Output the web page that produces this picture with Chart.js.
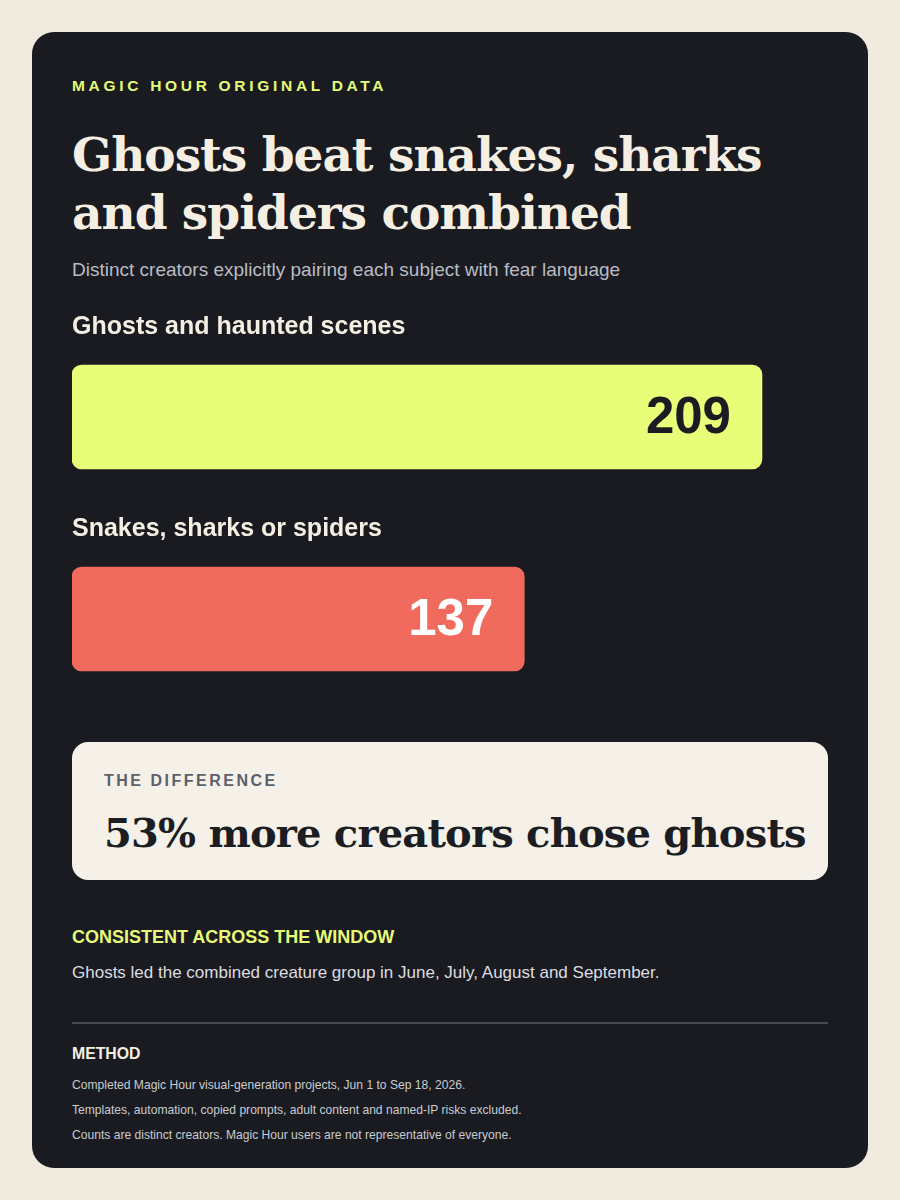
<!DOCTYPE html>
<html lang="en">
<head>
    <meta charset="UTF-8">
    <title>Ghosts beat snakes, sharks and spiders combined</title>
    <script src="https://cdn.jsdelivr.net/npm/chart.js"></script>
    <style>
        html, body {
            margin: 0;
            padding: 0;
            background: #f1eadf;
            width: 900px;
            height: 1200px;
            overflow: hidden;
        }

        .card {
            position: absolute;
            left: 32px;
            top: 32px;
            width: 836px;
            height: 1136px;
            background: #191b21;
            border-radius: 22px;
        }

        .txt {
            position: absolute;
            left: 72px;
            white-space: nowrap;
            font-family: "Liberation Sans", Arial, sans-serif;
        }

        .eyebrow {
            top: 76px;
            line-height: 20px;
            font-size: 15.5px;
            font-weight: bold;
            letter-spacing: 3.7px;
            color: #e6fb78;
        }

        .title {
            top: 126px;
            line-height: 58px;
            font-family: "DejaVu Serif", Georgia, serif;
            font-size: 47px;
            font-weight: bold;
            letter-spacing: -1px;
            color: #f5efe3;
        }

        .sub {
            top: 258px;
            line-height: 24px;
            font-size: 19px;
            color: #b9bcc4;
        }

        #barChart {
            position: absolute;
            left: 72px;
            top: 316px;
        }

        .diff {
            position: absolute;
            left: 72px;
            top: 742px;
            width: 756px;
            height: 138px;
            background: #f5f1e8;
            border-radius: 16px;
        }

        .diff-label {
            left: 104px;
            top: 771px;
            line-height: 20px;
            font-size: 16px;
            font-weight: bold;
            letter-spacing: 2.5px;
            color: #5d6068;
        }

        .diff-value {
            left: 104px;
            top: 809px;
            line-height: 48px;
            font-family: "DejaVu Serif", Georgia, serif;
            font-size: 40px;
            font-weight: bold;
            letter-spacing: -0.8px;
            color: #1b1d23;
        }

        .note-head {
            top: 925px;
            line-height: 24px;
            font-size: 18px;
            font-weight: bold;
            color: #e6fb78;
        }

        .note {
            top: 961px;
            line-height: 24px;
            font-size: 17px;
            color: #dcdde0;
        }

        .rule {
            position: absolute;
            left: 72px;
            top: 1022px;
            width: 756px;
            height: 2px;
            background: #474a52;
        }

        .method-head {
            top: 1044px;
            line-height: 20px;
            font-size: 15.8px;
            font-weight: bold;
            color: #f5efe3;
        }

        .method {
            top: 1073px;
            line-height: 25px;
            font-size: 12.1px;
            color: #c9cbd0;
        }
    </style>
</head>
<body>

    <div class="card"></div>

    <div class="txt eyebrow">MAGIC HOUR ORIGINAL DATA</div>
    <div class="txt title">Ghosts beat snakes, sharks<br>and spiders combined</div>
    <div class="txt sub">Distinct creators explicitly pairing each subject with fear language</div>

    <canvas id="barChart"></canvas>

    <div class="diff"></div>
    <div class="txt diff-label">THE DIFFERENCE</div>
    <div class="txt diff-value">53% more creators chose ghosts</div>

    <div class="txt note-head">CONSISTENT ACROSS THE WINDOW</div>
    <div class="txt note">Ghosts led the combined creature group in June, July, August and September.</div>

    <div class="rule"></div>
    <div class="txt method-head">METHOD</div>
    <div class="txt method">Completed Magic Hour visual-generation projects, Jun 1 to Sep 18, 2026.<br>Templates, automation, copied prompts, adult content and named-IP risks excluded.<br>Counts are distinct creators. Magic Hour users are not representative of everyone.</div>

    <script>
        // Subjects and distinct creator counts
        const subjects = ['Ghosts and haunted scenes', 'Snakes, sharks or spiders'];
        const creators = [209, 137];
        const barColors = ['#e8fd78', '#f06b5e'];
        const valueColors = ['#1a1c22', '#ffffff'];
        const scaleMax = 229;

        // Draws the subject label above each bar and the count inside its end
        const barText = {
            id: 'barText',
            afterDatasetsDraw(chart) {
                const ctx = chart.ctx;
                const bars = chart.getDatasetMeta(0).data;
                ctx.save();
                bars.forEach((bar, i) => {
                    const top = bar.y - bar.height / 2;
                    ctx.textBaseline = 'middle';

                    ctx.font = 'bold 25px "Liberation Sans", Arial, sans-serif';
                    ctx.fillStyle = '#f5efe3';
                    ctx.textAlign = 'left';
                    ctx.fillText(subjects[i], chart.chartArea.left, top - 38);

                    ctx.font = 'bold 51px "Liberation Sans", Arial, sans-serif';
                    ctx.fillStyle = valueColors[i];
                    ctx.textAlign = 'right';
                    ctx.fillText(String(creators[i]), bar.x - 31, bar.y + 2);
                });
                ctx.restore();
            }
        };

        const canvas = document.getElementById('barChart');
        canvas.width = 756;
        canvas.height = 404;
        canvas.style.width = '756px';
        canvas.style.height = '404px';

        new Chart(canvas.getContext('2d'), {
            type: 'bar',
            data: {
                labels: subjects,
                datasets: [{
                    data: creators,
                    backgroundColor: barColors,
                    borderRadius: 10,
                    borderSkipped: false,
                    barThickness: 104,
                }],
            },
            options: {
                indexAxis: 'y',
                responsive: false,
                animation: false,
                layout: { padding: 0 },
                scales: {
                    x: { display: false, min: 0, max: scaleMax },
                    y: { display: false },
                },
                plugins: {
                    legend: { display: false },
                    tooltip: { enabled: false },
                },
            },
            plugins: [barText],
        });
    </script>

</body>
</html>
